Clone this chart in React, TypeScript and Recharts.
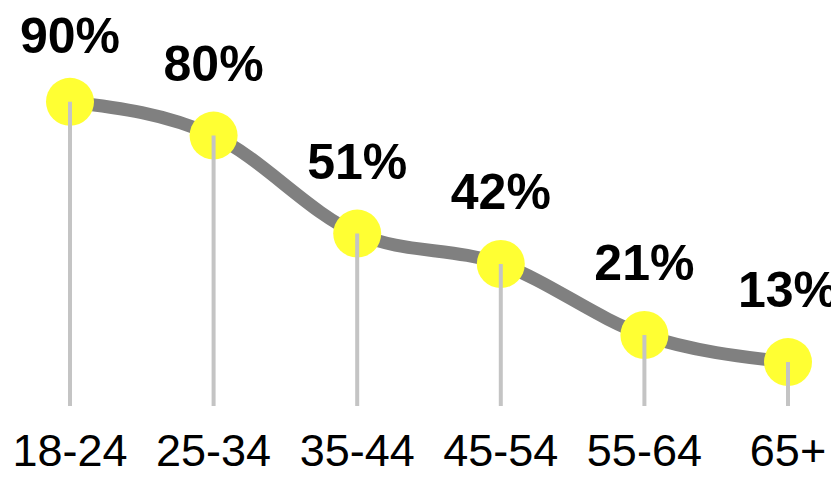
import { LineChart, Line, XAxis, YAxis, ReferenceLine, LabelList } from "recharts";

const ageGroups = ["18-24", "25-34", "35-44", "45-54", "55-64", "65+"];
const shares = [90, 80, 51, 42, 21, 13];

const data = ageGroups.map((group, i) => ({ group, share: shares[i] }));

const YellowDot = (props: any) => {
  const { cx, cy } = props;
  if (cx == null || cy == null) return null;
  return <circle cx={cx} cy={cy} r={24} fill="#ffff33" stroke="none" />;
};

const ShareLabel = (props: any) => {
  const { x, y, value } = props;
  // keep the top label inside the picture
  const ty = Math.max(y - 55, 45);
  return (
    <text
      x={x}
      y={ty}
      textAnchor="middle"
      fontSize={50}
      fontWeight="bold"
      fontFamily="Liberation Sans, Arial, sans-serif"
      fill="#000"
    >
      {value}%
    </text>
  );
};

export default function App() {
  return (
    <div style={{ width: 831, height: 469 }}>
      <LineChart
        width={831}
        height={469}
        data={data}
        margin={{ top: 60, right: 51, bottom: 0, left: 62 }}
      >
        <XAxis
          dataKey="group"
          axisLine={false}
          tickLine={false}
          padding={{ left: 0, right: 0 }}
          height={71}
          tickMargin={22}
          interval={0}
          tick={{ fontSize: 45, fill: "#000", fontFamily: "Liberation Sans, Arial, sans-serif" }}
        />
        <YAxis hide domain={[0, 100]} />
        <Line
          type="monotone"
          dataKey="share"
          stroke="#808080"
          strokeWidth={13}
          dot={<YellowDot />}
          activeDot={false}
          isAnimationActive={false}
        >
          <LabelList dataKey="share" content={<ShareLabel />} />
        </Line>
        {data.map((d) => (
          <ReferenceLine
            key={d.group}
            segment={[
              { x: d.group, y: 0 },
              { x: d.group, y: d.share },
            ]}
            stroke="#c4c4c4"
            strokeWidth={4}
            zIndex={1500}
          />
        ))}
      </LineChart>
    </div>
  );
}
